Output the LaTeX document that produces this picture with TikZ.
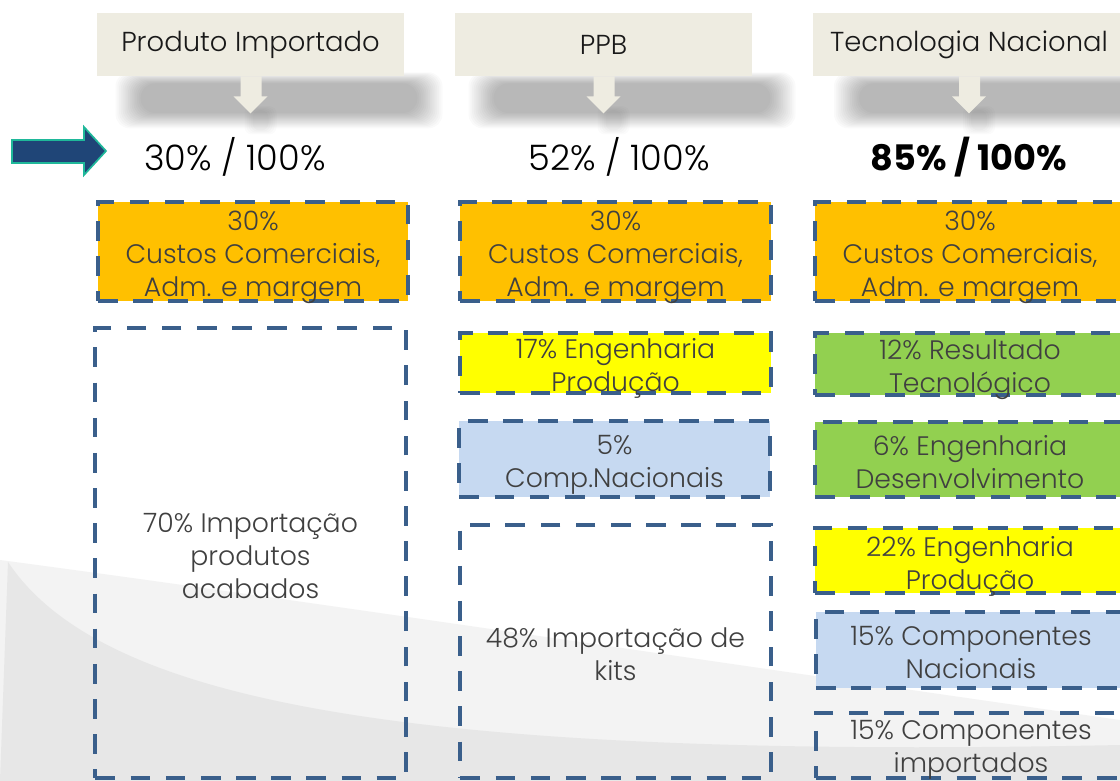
\documentclass[tikz,border=0pt]{standalone}
\usepackage{fontspec}
\setmainfont{Poppins Light}[BoldFont={Poppins Bold}]
\definecolor{dashblue}{HTML}{3A5F8B}
\definecolor{txtgray}{HTML}{404040}
\definecolor{beige}{HTML}{EEECE1}
\definecolor{cOrange}{HTML}{FFC000}
\definecolor{cYellow}{HTML}{FFFF00}
\definecolor{cGreen}{HTML}{92D050}
\definecolor{cBlue}{HTML}{C6D9F1}
\definecolor{arrowblue}{HTML}{1F4577}
\definecolor{arrowteal}{HTML}{1FB89A}
\definecolor{swooshA}{HTML}{F3F3F3}
\definecolor{swooshB}{HTML}{E7E7E7}
\tikzset{
  part/.style={draw=dashblue, line width=2.85pt, dash pattern=on 14pt off 11pt,
    inner sep=0pt, minimum width=7.75cm, align=center, text=txtgray,
    font=\fontsize{19}{23.4}\selectfont, text depth=0pt},
  twolines/.style={text height=41pt},
  threelines/.style={text height=64pt},
  header/.style={fill=beige, inner sep=0pt, minimum height=1.575cm,
    text=black!90, font=\fontsize{19.5}{22}\selectfont},
  share/.style={font=\fontsize{25}{30}\selectfont},
}
\begin{document}
\begin{tikzpicture}[x=0.025cm, y=-0.025cm]
        \clip (0,0) rectangle (1120,781);
        % background swoosh
        \fill[white] (0,0) rectangle (1120,781);
        \fill[swooshA] (0,560) .. controls (300,600) and (700,660) .. (1120,720)
              -- (1120,781) -- (0,781) -- cycle;
        \fill[swooshB] (8,562) .. controls (100,700) and (400,760) .. (1120,745)
              -- (1120,781) -- (0,781) -- cycle;

        % headers
        \node[header, minimum width=7.675cm] (hImp) at (250.5,44.5) {Produto Importado};
        \node[header, minimum width=7.425cm] (hPPB) at (603.5,44.5) {PPB};
        \node[header, minimum width=7.8cm] (hNac) at (969,44.5) {Tecnologia Nacional};
        \foreach \h in {hImp,hPPB,hNac}{
          \begin{scope}[shift={(\h.south)}]
            \foreach \i in {0,...,14}
              \fill[black, opacity=0.02, rounded corners=10pt]
                (-135+1.8*\i,-4+0.8*\i) rectangle (192-1.8*\i,52-1.1*\i);
            \foreach \i in {0,...,4}
              \fill[black, opacity=0.015, rounded corners=5pt]
                (-6+2*\i,30+\i) rectangle (26-2*\i,58-\i);
            \fill[beige] (-10,0) -- (11,0) -- (11,20) -- (17,20) -- (0,37)
                -- (-17,20) -- (-10,20) -- cycle;
          \end{scope}
        }
        \node[header, minimum width=7.675cm] at (hImp) {Produto Importado};
        \node[header, minimum width=7.425cm] at (hPPB) {PPB};
        \node[header, minimum width=7.8cm] at (hNac) {Tecnologia Nacional};

        % arrow
        \draw[fill=arrowblue, draw=arrowteal, line width=1.2pt, line join=miter]
              (12,140) -- (84,140) -- (84,127) -- (106,151) -- (84,175) -- (84,163)
              -- (12,163) -- cycle;

        % shares
        \node[share] (sImp) at (235,157) {30\% / 100\%};
        \node[share] (sPPB) at (619,157) {52\% / 100\%};
        \node[share, font=\fontsize{25}{30}\selectfont\bfseries] (sNac) at (969,157) {85\% / 100\%};

        % Produto Importado
        \node[part, threelines, fill=cOrange, minimum height=2.475cm] (iCusto) at (253,251.5)
              {30\%\\Custos Comerciais,\\Adm. e margem};
        \node[part, threelines, minimum height=11.25cm] (iImport) at (250.5,553)
              {70\% Importação\\produtos\\acabados};

        % PPB
        \node[part, threelines, fill=cOrange, minimum height=2.475cm] (pCusto) at (615.5,251.5)
              {30\%\\Custos Comerciais,\\Adm. e margem};
        \node[part, twolines, fill=cYellow, minimum height=1.5cm] (pEng) at (615.5,363)
              {17\% Engenharia\\Produção};
        \node[part, twolines, fill=cBlue, minimum height=1.9cm] (pComp) at (614.5,459)
              {5\%\\Comp.Nacionais};
        \node[part, twolines, minimum height=6.325cm] (pKits) at (615.5,651.5)
              {48\% Importação de\\kits};

        % Tecnologia Nacional
        \node[part, threelines, fill=cOrange, minimum height=2.475cm] (nCusto) at (970,251.5)
              {30\%\\Custos Comerciais,\\Adm. e margem};
        \node[part, twolines, fill=cGreen, minimum height=1.55cm] (nRes) at (970,364)
              {12\% Resultado\\Tecnológico};
        \node[part, twolines, fill=cGreen, minimum height=1.875cm] (nDes) at (970,459.5)
              {6\% Engenharia\\Desenvolvimento};
        \node[part, twolines, fill=cYellow, minimum height=1.625cm] (nEng) at (970,560.5)
              {22\% Engenharia\\Produção};
        \node[part, twolines, fill=cBlue, minimum height=1.9cm] (nComp) at (971,650)
              {15\% Componentes\\Nacionais};
        \node[part, text height=38pt, minimum height=1.625cm] (nImp) at (971,745.5)
              {15\% Componentes\\importados};
    \end{tikzpicture}
\end{document}
